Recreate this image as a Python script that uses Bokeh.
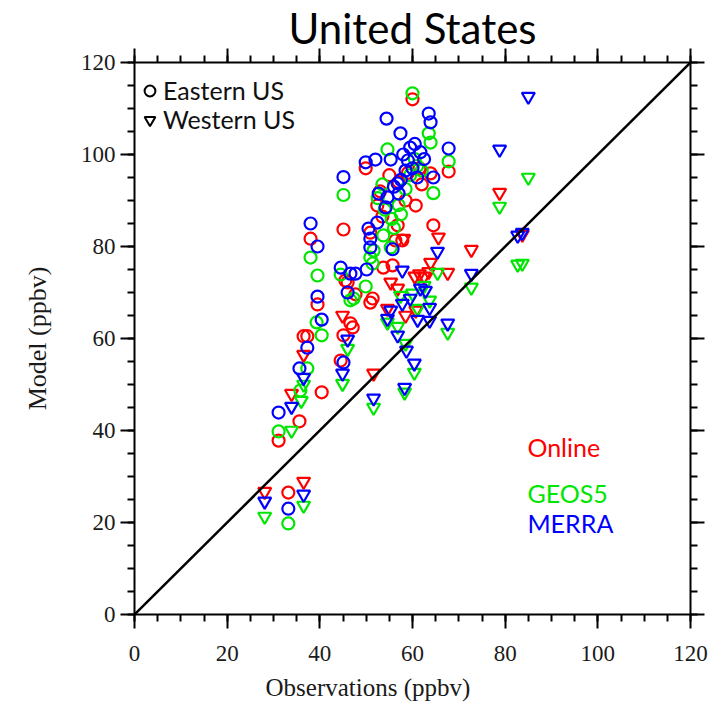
from bokeh.plotting import figure
from bokeh.models import (LinearAxis, SingleIntervalTicker, Range1d, Label, Legend,
                          LegendItem, Slope, Title)
from bokeh.embed import file_html
from bokeh.resources import INLINE

# ---------------- data (observations, model) ----------------
east_online_x = [33.2, 31.1, 35.6, 40.4, 36.5, 37.3, 39.5, 38.0, 45.1, 44.5, 45.1, 46.6, 47.1, 46.0,
                 47.7, 50.9, 51.4, 53.7, 55.7, 50.9, 52.4, 53.5, 56.3, 57.8, 56.8, 60.7, 64.5, 63.9,
                 67.8, 49.9, 60.0, 55.0, 57.0, 59.0, 61.5, 53.0, 58.5, 62.0, 45.5]
east_online_y = [26.5, 37.8, 42.0, 48.3, 60.5, 60.5, 67.4, 81.7, 83.7, 55.2, 60.7, 63.3, 62.4, 72.2,
                 69.6, 67.8, 68.7, 75.4, 75.9, 83.0, 88.9, 86.5, 81.3, 81.3, 84.6, 88.9, 84.6, 95.9,
                 96.3, 97.0, 112.0, 95.5, 94.0, 96.0, 97.0, 92.0, 90.0, 93.5, 72.6]

east_geos_x = [33.2, 31.1, 35.8, 37.3, 40.4, 39.3, 39.5, 38.0, 44.5, 45.1, 46.6, 47.3, 49.9, 50.9,
               51.4, 51.6, 53.7, 55.3, 54.6, 60.0, 63.5, 63.9, 64.5, 67.8, 52.5, 54.0, 55.5, 57.0,
               58.5, 59.5, 61.0, 56.0, 57.5, 60.5, 62.0, 53.5]
east_geos_y = [19.8, 39.8, 48.7, 53.5, 60.7, 63.5, 73.7, 77.6, 73.9, 91.2, 68.3, 68.7, 71.3, 77.6,
               76.3, 79.1, 82.4, 79.8, 101.1, 113.3, 104.6, 102.6, 91.6, 98.5, 90.5, 88.0, 86.0, 89.0,
               92.5, 95.5, 97.5, 84.0, 87.0, 99.0, 96.5, 93.5]

east_merra_x = [33.2, 31.1, 35.6, 37.3, 40.4, 39.5, 39.5, 38.0, 44.5, 46.6, 47.7, 50.1, 46.0, 45.1,
                45.1, 49.9, 52.0, 55.3, 54.4, 57.4, 63.5, 63.9, 64.5, 67.8, 58.0, 59.5, 60.5, 61.7,
                59.0, 56.8, 57.5, 56.0, 52.7, 54.6, 57.0, 54.2, 52.4, 50.5, 50.9, 50.9, 55.7, 58.5,
                60.0, 61.0, 62.5]
east_merra_y = [23.0, 43.9, 53.5, 58.0, 64.1, 69.1, 80.0, 85.0, 75.4, 74.1, 74.1, 75.0, 70.0, 54.8,
                95.1, 98.3, 98.9, 98.9, 107.8, 104.6, 108.9, 107.0, 95.0, 101.3, 100.0, 101.5, 102.3,
                100.5, 98.7, 93.7, 94.5, 93.0, 91.5, 90.7, 91.5, 88.5, 85.2, 83.9, 81.7, 79.8, 79.4,
                96.5, 97.0, 95.0, 99.0]

west_online_x = [28.1, 36.5, 33.9, 36.5, 44.9, 51.6, 54.6, 55.3, 56.8, 58.1, 58.5, 60.7, 60.5, 61.5,
                 62.5, 63.5, 63.9, 65.6, 67.6, 72.7, 78.8, 83.7]
west_online_y = [26.7, 28.9, 48.0, 56.5, 65.0, 52.4, 66.5, 72.2, 70.9, 81.7, 65.0, 66.1, 73.5, 74.0,
                 73.5, 74.5, 76.5, 82.0, 74.3, 79.3, 91.7, 82.6]

west_geos_x = [28.1, 36.5, 33.9, 36.0, 36.5, 46.0, 44.9, 51.6, 54.6, 56.8, 57.4, 60.0, 58.5, 60.4,
               58.3, 62.5, 63.7, 65.4, 67.6, 72.7, 78.8, 85.0, 82.7, 83.7, 61.1]
west_geos_y = [21.3, 23.7, 40.0, 46.5, 50.0, 57.8, 50.2, 45.0, 63.5, 62.6, 69.3, 69.8, 58.9, 52.6,
               48.3, 71.5, 68.3, 74.3, 61.3, 71.1, 88.7, 95.0, 76.1, 76.3, 66.5]

west_merra_x = [28.1, 36.5, 33.9, 36.5, 46.0, 44.9, 51.6, 54.6, 55.3, 56.8, 57.8, 59.5, 57.8, 58.7,
                60.4, 58.3, 61.7, 62.8, 61.1, 63.7, 63.7, 65.4, 67.6, 72.7, 78.8, 85.0, 82.7, 83.7]
west_merra_y = [24.6, 26.1, 45.2, 51.5, 59.8, 52.4, 47.0, 64.3, 66.1, 60.7, 67.6, 68.7, 74.8, 57.4,
                54.6, 49.3, 70.9, 70.4, 64.1, 66.7, 63.9, 78.9, 63.3, 74.1, 101.1, 112.6, 82.4, 83.0]

model_names = ["Online", "GEOS5", "MERRA"]
model_colors = ["#ff0000", "#00e600", "#0000ff"]
region_names = ["Eastern US", "Western US"]
title_text = "United States"
x_title = "Observations (ppbv)"
y_title = "Model (ppbv)"

# ---------------- figure ----------------
p = figure(width=713, height=717, x_range=Range1d(0, 120), y_range=Range1d(0, 120),
           output_backend="svg", toolbar_location=None,
           x_axis_location=None, y_axis_location=None,
           min_border_left=134, min_border_right=23, min_border_top=62, min_border_bottom=103)
p.grid.grid_line_color = None
p.outline_line_color = None
p.background_fill_color = "white"

for loc in ["below", "left", "above", "right"]:
    ax = LinearAxis(ticker=SingleIntervalTicker(interval=20, num_minor_ticks=4))
    ax.axis_line_width = 2
    ax.major_tick_line_width = 2
    ax.minor_tick_line_width = 2
    ax.major_tick_in = 0
    ax.major_tick_out = 14
    ax.minor_tick_in = 0
    ax.minor_tick_out = 7
    ax.major_label_text_font = "Liberation Serif"
    ax.major_label_text_font_size = "23px"
    ax.major_label_text_color = "#1a1a1a"
    ax.axis_label_text_font = "Liberation Serif"
    ax.axis_label_text_font_size = "26px"
    ax.axis_label_text_font_style = "normal"
    ax.axis_label_text_color = "#1a1a1a"
    if loc == "below":
        ax.major_label_standoff = 17
    elif loc == "left":
        ax.axis_label = y_title
        ax.major_label_standoff = 5
        ax.axis_label_standoff = 26
    else:
        ax.major_label_text_alpha = 0
        ax.major_label_text_font_size = "1px"
        ax.major_label_standoff = 0
    p.add_layout(ax, loc)

# x-axis title (shifted left as in the original)
p.add_layout(Title(text=x_title, align="left", offset=131, standoff=16,
                   text_font="Liberation Serif", text_font_size="25px",
                   text_font_style="normal", text_color="#1a1a1a"), "below")

# main title
p.add_layout(Title(text=title_text, align="center", offset=3, standoff=-8,
                   text_font="Lato", text_font_size="42px", text_font_style="normal",
                   text_color="black"), "above")

# 1:1 line
p.add_layout(Slope(gradient=1, y_intercept=0, line_color="black", line_width=2.5))

east = [(east_online_x, east_online_y), (east_geos_x, east_geos_y), (east_merra_x, east_merra_y)]
west = [(west_online_x, west_online_y), (west_geos_x, west_geos_y), (west_merra_x, west_merra_y)]

for (ex, ey), (wx, wy), col in zip(east, west, model_colors):
    p.scatter(wx, wy, marker="inverted_triangle", size=13, line_color=col, fill_color=None,
              line_width=2.2)
    p.scatter(ex, ey, marker="circle", size=12, line_color=col, fill_color=None, line_width=2.2)

# legend (black symbols; renderers hold a single NaN point so nothing is drawn in the plot)
nan = float("nan")
r_e = p.scatter([nan], [nan], marker="circle", size=12, line_color="black", fill_color=None,
                line_width=2)
r_w = p.scatter([nan], [nan], marker="inverted_triangle", size=12, line_color="black",
                fill_color=None, line_width=2)
for label, rend, loc_y in zip(region_names, [r_e, r_w], [509, 480]):
    lg = Legend(items=[LegendItem(label=label, renderers=[rend])],
                location=(2, loc_y), border_line_color=None, background_fill_alpha=0,
                label_text_font="Lato", label_text_font_size="25px", label_text_color="#111111",
                glyph_width=27, glyph_height=27, label_standoff=0, spacing=0,
                padding=0, margin=0, label_height=26)
    p.add_layout(lg)

# model name labels
for name, col, yv in zip(model_names, model_colors, [36.5, 26.4, 19.8]):
    p.add_layout(Label(x=84.8, y=yv, text=name, text_color=col, text_font="Lato",
                       text_font_size="25px", text_baseline="middle", text_align="left"))

open("out.html", "w").write(file_html(p, INLINE))
